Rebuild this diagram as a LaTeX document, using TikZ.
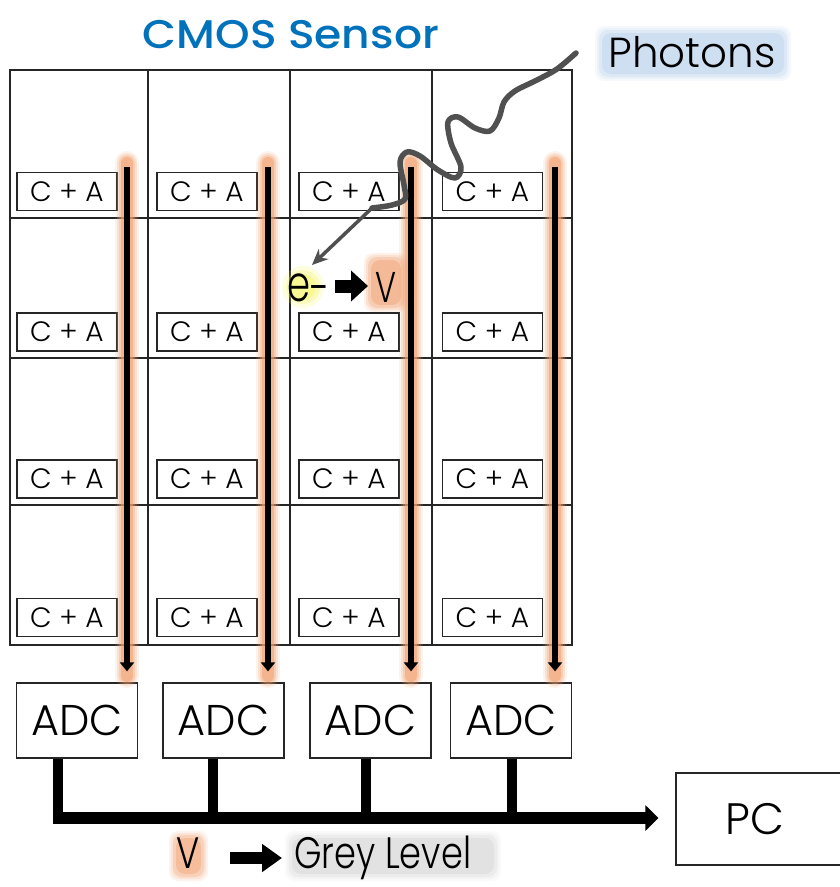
\documentclass[tikz,border=0pt]{standalone}
\usepackage{fontspec}
\usetikzlibrary{arrows.meta}
\def\thinname{Poppins}
\IfFontExistsTF{Poppins Light}{\def\thinname{Poppins Light}}{}
\def\medname{Poppins}
\IfFontExistsTF{Poppins Medium}{\def\medname{Poppins Medium}}{}
\expandafter\newfontfamily\expandafter\fthin\expandafter{\thinname}
\expandafter\newfontfamily\expandafter\fcond\expandafter{\thinname}[FakeStretch=0.74]
\expandafter\newfontfamily\expandafter\fcondb\expandafter{\thinname}[FakeStretch=0.8]
\expandafter\newfontfamily\expandafter\ftitle\expandafter{\medname}[FakeStretch=1.1]
\definecolor{glowor}{RGB}{242,160,110}
\definecolor{titleblue}{RGB}{0,114,188}
\definecolor{glowbl}{RGB}{170,200,235}
\definecolor{glowye}{RGB}{245,245,80}
\definecolor{glowgr}{RGB}{190,190,190}
\definecolor{wavegray}{RGB}{80,80,80}
\newcommand{\glowrect}[6]{%
  \foreach \g/\o in {7/0.10,5/0.14,3/0.2,0/0.3} {
    \fill[#1, opacity=#6*\o, rounded corners=9pt] (#2-\g,#3-\g) rectangle (#4+\g,#5+\g);
  }}
\begin{document}
\begin{tikzpicture}[x=1pt,y=-1pt,
  gridline/.style={draw=black!85, line width=1.4pt},
  cabox/.style={draw=black!85, line width=1.3pt, fill=white, minimum width=100pt, minimum height=38pt, inner sep=0pt, font=\fthin\fontsize{28}{28}\selectfont},
  adcbox/.style={draw=black!85, line width=1.3pt, minimum width=121pt, minimum height=75pt, inner sep=0pt, font=\fthin\fontsize{43}{43}\selectfont},
  pcbox/.style={draw=black!85, line width=1.3pt, minimum width=168pt, minimum height=92pt, inner sep=0pt, font=\fthin\fontsize{44}{44}\selectfont},
  barline/.style={draw=black, line width=6pt, -{Triangle[length=9pt,width=14pt]}},
  busline/.style={draw=black, line width=10pt},
  busarrow/.style={draw=black, line width=12pt, -{Triangle[length=13pt,width=25pt]}},
  fatarrow/.style={draw=black, line width=13pt, -{Triangle[length=17pt,width=30pt]}},
  wave/.style={draw=wavegray, line width=5.5pt, line cap=round, line join=round},
  photonarrow/.style={draw=wavegray, line width=3.5pt, -{Stealth[length=16pt,width=14pt]}},
  lbl/.style={inner sep=0pt}
]
\useasboundingbox (0,0) rectangle (840,887);
\fill[white] (0,0) rectangle (840,887);

% title
\node[lbl, font=\ftitle\fontsize{40}{40}\selectfont, text=titleblue] (title) at (291,35) {CMOS Sensor};

% photons label
\glowrect{glowbl}{602}{33}{784}{74}{1}
\node[lbl, font=\fthin\fontsize{42}{42}\selectfont] (photons) at (692,52) {Photons};

% sensor grid
\draw[gridline] (10,70) rectangle (572,645);
\foreach \x in {148,290,432} \draw[gridline] (\x,70) -- (\x,645);
\foreach \y in {218,358,505} \draw[gridline] (10,\y) -- (572,\y);

% C + A boxes
\foreach \c/\cx in {1/67,2/207,3/349,4/492.5} {
  \foreach \r/\ry in {1/191.5,2/332,3/479,4/617.5} {
    \node[cabox] (ca\r\c) at (\cx,\ry) {C + A};
  }
}

% ADC boxes
\node[adcbox] (adc1) at (77,720.5) {ADC};
\node[adcbox] (adc2) at (223.5,720.5) {ADC};
\node[adcbox] (adc3) at (370.5,720.5) {ADC};
\node[adcbox] (adc4) at (511,720.5) {ADC};

% PC box
\node[pcbox] (pc) at (760,819) {\hspace*{-10pt}PC};

% column read-out bars with glow
\foreach \i/\x in {1/127,2/268,3/411,4/555} {
  \coordinate (bt\i) at (\x,167);
  \coordinate (bg\i) at (\x,163);
  \coordinate (bh\i) at (\x,676);
  \foreach \w/\o in {24/0.12,20/0.2,16/0.3,12/0.55} {
    \draw[draw=glowor, line cap=round, line width=\w pt, opacity=\o] (bg\i) -- (bh\i);
  }
  \draw[barline, shorten >=11pt] (bt\i) -- (bt\i |- adc\i.north);
}

% bus to PC
\foreach \i/\x in {1/58,2/213,3/366,4/512} {
  \coordinate (bus\i) at (\x,818);
  \draw[busline] (bus\i |- adc\i.south) -- (bus\i);
}
\coordinate (busstart) at (53,818);
\draw[busarrow, shorten >=17pt] (busstart) -- (busstart -| pc.west);

% e- -> V
\fill[glowye, opacity=0.18] (303,287) circle (21pt);
\fill[glowye, opacity=0.25] (303,287) circle (17pt);
\fill[glowye, opacity=0.35] (303,287) circle (13pt);
\glowrect{glowor}{371}{260}{401}{305}{1.4}
\node[lbl, anchor=base, font=\fcond\fontsize{50}{50}\selectfont] (em) at (309,301) {e\raisebox{-4pt}{-}};
\node[lbl, anchor=base, font=\fcond\fontsize{43}{43}\selectfont] (vv) at (386,302) {V};
\coordinate (ea1) at (335,286);
\coordinate (ea2) at (368,286);
\draw[fatarrow] (ea1) -- (ea2);

% photon wave
\draw[wave] plot[smooth, tension=0.55] coordinates {
 (576,53) (557,69) (537,80) (515,91) (504,102) (499,118) (490,131) (475,128)
 (458,117) (448,122) (451,143) (461,167) (455,178) (438,170) (420,156)
 (407,152) (400,162) (404,185) (405,199) (392,205) (372,208)};
\coordinate (wend) at (372,208);
\coordinate (etip) at (312,265);
\draw[photonarrow] (wend) -- (etip);

% V -> Grey Level
\glowrect{glowor}{176}{838}{201}{874}{1.3}
\glowrect{glowgr}{292}{838}{494}{874}{0.7}
\node[lbl, anchor=base, font=\fcondb\fontsize{44}{44}\selectfont] (vb) at (188,868) {V};
\node[lbl, anchor=base west, font=\fcondb\fontsize{44}{44}\selectfont] (grey) at (294,868) {Grey Level};
\coordinate (ga1) at (230,858);
\coordinate (ga2) at (282,858);
\draw[draw=black, line width=12pt, -{Triangle[length=20pt,width=27pt]}] (ga1) -- (ga2);
\end{tikzpicture}
\end{document}
